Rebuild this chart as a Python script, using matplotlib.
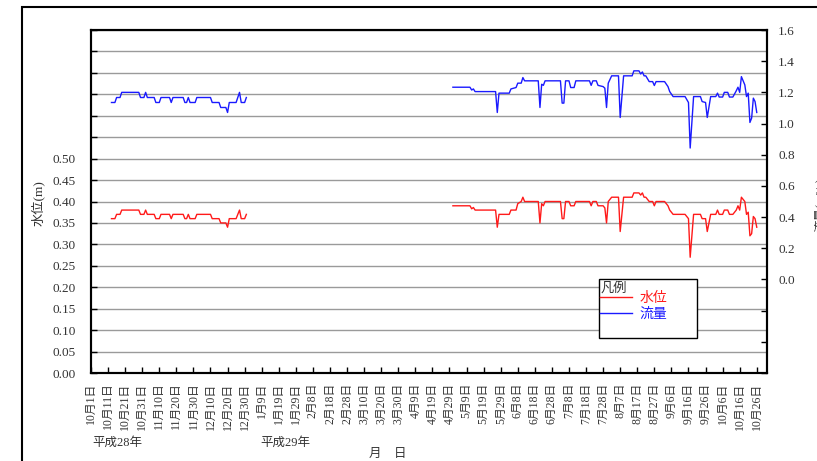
import numpy as np
import matplotlib
matplotlib.use('Agg')
from matplotlib import pyplot as plt
from matplotlib.patches import Rectangle

plt.rcParams['font.family'] = ['Liberation Serif', 'Noto Sans CJK JP', 'DejaVu Sans']

# days counted from 2016-10-01 (平成28年10月1日)
days1 = [12, 14, 15, 17, 18, 28, 29, 31, 32, 33, 37, 38, 40, 41, 46, 47, 48, 54, 55, 56,
         57, 58, 61, 62, 70, 71, 75, 76, 79, 80, 81, 85, 87, 88, 90, 91]
level1 = [0.36, 0.36, 0.37, 0.37, 0.38, 0.38, 0.37, 0.37, 0.38, 0.37, 0.37, 0.36, 0.36, 0.37,
          0.37, 0.36, 0.37, 0.37, 0.36, 0.36, 0.37, 0.36, 0.36, 0.37, 0.37, 0.36, 0.36, 0.35,
          0.35, 0.34, 0.36, 0.36, 0.38, 0.36, 0.36, 0.37]
flow1 = [1.135, 1.135, 1.167, 1.167, 1.20, 1.20, 1.167, 1.167, 1.20, 1.167, 1.167, 1.135,
         1.135, 1.167, 1.167, 1.135, 1.167, 1.167, 1.135, 1.135, 1.167, 1.135, 1.135, 1.167,
         1.167, 1.135, 1.135, 1.103, 1.103, 1.071, 1.135, 1.135, 1.20, 1.135, 1.135, 1.167]

days2 = [212, 222, 223, 224, 225, 237, 238, 239, 245, 246,
         249, 250, 252, 253, 254, 262, 263, 264, 265, 266,
         275, 276, 277, 278, 280, 281, 283, 284, 292, 293,
         294, 296, 297, 300, 301, 302, 303, 305, 309, 310,
         312, 317, 318, 321, 322, 323, 324, 325, 327, 329,
         330, 331, 336, 338, 339, 341, 348, 350, 351, 353,
         357, 358, 360, 361, 363, 366, 367, 368, 370, 371,
         373, 374, 376, 378, 379, 380, 381, 383, 384, 385,
         386, 387, 388, 389, 390]
level2 = [0.39, 0.39, 0.383, 0.386, 0.38, 0.38, 0.34, 0.37, 0.37, 0.38,
          0.38, 0.395, 0.40, 0.41, 0.40, 0.40, 0.35, 0.395, 0.39, 0.40,
          0.40, 0.36, 0.36, 0.40, 0.40, 0.39, 0.39, 0.40, 0.40, 0.39,
          0.40, 0.40, 0.39, 0.39, 0.385, 0.35, 0.40, 0.41, 0.41, 0.33,
          0.41, 0.41, 0.42, 0.42, 0.415, 0.42, 0.41, 0.41, 0.40, 0.40,
          0.39, 0.40, 0.40, 0.39, 0.38, 0.37, 0.37, 0.36, 0.27, 0.37,
          0.37, 0.36, 0.36, 0.33, 0.37, 0.37, 0.38, 0.37, 0.37, 0.38,
          0.38, 0.37, 0.37, 0.38, 0.39, 0.38, 0.41, 0.40, 0.37, 0.375,
          0.32, 0.325, 0.365, 0.36, 0.34]
flow2 = [1.233, 1.233, 1.215, 1.222, 1.205, 1.205, 1.071, 1.195, 1.195, 1.222,
         1.231, 1.259, 1.259, 1.295, 1.274, 1.274, 1.103, 1.252, 1.245, 1.274,
         1.274, 1.131, 1.131, 1.274, 1.274, 1.231, 1.231, 1.274, 1.274, 1.245,
         1.274, 1.274, 1.245, 1.237, 1.227, 1.103, 1.259, 1.306, 1.306, 1.039,
         1.306, 1.306, 1.338, 1.338, 1.318, 1.331, 1.306, 1.306, 1.269, 1.269,
         1.244, 1.269, 1.269, 1.237, 1.205, 1.173, 1.173, 1.135, 0.843, 1.173,
         1.173, 1.141, 1.135, 1.039, 1.173, 1.173, 1.195, 1.17, 1.17, 1.20,
         1.20, 1.17, 1.17, 1.21, 1.233, 1.20, 1.301, 1.248, 1.173, 1.195,
         1.007, 1.035, 1.163, 1.141, 1.071]

date_labels = ['10月1日', '10月11日', '10月21日', '10月31日', '11月10日', '11月20日', '11月30日',
               '12月10日', '12月20日', '12月30日', '1月9日', '1月19日', '1月29日', '2月8日',
               '2月18日', '2月28日', '3月10日', '3月20日', '3月30日', '4月9日', '4月19日',
               '4月29日', '5月9日', '5月19日', '5月29日', '6月8日', '6月18日', '6月28日',
               '7月8日', '7月18日', '7月28日', '8月7日', '8月17日', '8月27日', '9月6日',
               '9月16日', '9月26日', '10月6日', '10月16日', '10月26日']
left_ticks = np.arange(0, 0.801, 0.05)
left_labels = ['0.00', '0.05', '0.10', '0.15', '0.20', '0.25', '0.30', '0.35', '0.40',
               '0.45', '0.50', '', '', '', '', '', '']
right_ticks = np.arange(-0.6, 1.61, 0.2)
right_labels = ['', '', '', '0.0', '0.2', '0.4', '0.6', '0.8', '1.0', '1.2', '1.4', '1.6']

W, H = 817, 461
fig = plt.figure(figsize=(W / 100, H / 100), dpi=100)
ax = fig.add_axes([91 / W, 1 - 373 / H, (767 - 91) / W, (373 - 30) / H])
ax2 = ax.twinx()

red = '#ff1a1a'
blue = '#1a1aff'
l1, = ax.plot(days1, level1, color=red, lw=1.0)
ax.plot(days2, level2, color=red, lw=1.0)
l2, = ax2.plot(days1, flow1, color=blue, lw=1.0)
ax2.plot(days2, flow2, color=blue, lw=1.0)

ax.set_xlim(0, 396)
ax.set_ylim(0, 0.80)
ax2.set_ylim(-0.6, 1.6)

ax.set_xticks(np.arange(0, 391, 10))
ax.set_xticklabels(date_labels, rotation=90, fontsize=8.5, color='#333333')
ax.set_yticks(left_ticks)
ax.set_yticklabels(left_labels, fontsize=9.5, color='#333333')
ax2.set_yticks(right_ticks)
ax2.set_yticklabels(right_labels, fontsize=9.5, color='#333333')

ax.tick_params(axis='x', direction='in', length=4, width=1, pad=7)
ax.tick_params(axis='y', direction='in', length=4, width=1, pad=11)
ax2.tick_params(axis='y', direction='in', length=4, width=1, pad=8)
ax.grid(axis='y', color='#9a9a9a', lw=1.0)
for a in (ax, ax2):
    for s in a.spines.values():
        s.set_linewidth(1.5)
        s.set_color('black')

# outer frame of the sheet
fig.add_artist(Rectangle((22 / W, -0.1), 1.0, 1.1 - 7 / H, transform=fig.transFigure,
                         fill=False, edgecolor='black', lw=1.5))

# legend box
ax2.add_patch(Rectangle((599 / W, 1 - 338 / H), 98 / W, 59 / H, transform=fig.transFigure,
                        facecolor='white', edgecolor='black', lw=1.0, clip_on=False, zorder=4))
leg = ax2.legend([l1, l2], ['水位', '流量'], loc='upper left',
                 bbox_to_anchor=(592 / W, 1 - 283 / H), bbox_transform=fig.transFigure,
                 frameon=False, labelcolor='linecolor',
                 handlelength=2.3, handletextpad=0.55, borderpad=0.1, labelspacing=0.08,
                 prop={'family': ['Noto Sans CJK JP'], 'size': 10})
leg.set_zorder(5)
fig.text(601 / W, 1 - 288 / H, '凡例', fontsize=9.5, ha='left', va='center',
         color='#333333', family=['Noto Sans CJK JP'], zorder=6)

fig.text(38 / W, 1 - 203 / H, '水位(m)', rotation=90, fontsize=9.5, ha='center', va='center',
         color='#333333')
fig.text(820 / W, 1 - 205 / H, '流量(m³/s)', rotation=90, fontsize=9, ha='center',
         va='center', color='#333333')
fig.text(92 / W, 1 - 443 / H, '平成28年', fontsize=9, ha='left', va='center', color='#333333')
fig.text(260 / W, 1 - 443 / H, '平成29年', fontsize=9, ha='left', va='center', color='#333333')
fig.text(388 / W, 1 - 454 / H, '月　日', fontsize=9, ha='center', va='center', color='#333333')

fig.savefig('out.png', dpi=100)
